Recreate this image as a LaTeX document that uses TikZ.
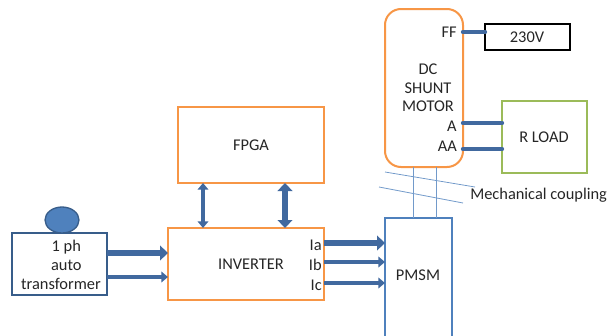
\documentclass[tikz,border=0pt]{standalone}
\usepackage{fontspec}
\setmainfont{Carlito}
\usetikzlibrary{arrows.meta,shapes.geometric}
\definecolor{orng}{HTML}{F79646}
\definecolor{bblue}{HTML}{4F81BD}
\definecolor{dblue}{HTML}{385D8A}
\definecolor{arrblue}{HTML}{41699F}
\definecolor{grn}{HTML}{9BBB59}
\tikzset{
  obox/.style={draw=orng, line width=1.5pt, fill=white},
  bbox/.style={draw=bblue, line width=1.3pt, fill=white},
  tbox/.style={draw=dblue, line width=1.5pt, fill=white},
  kbox/.style={draw=black, line width=1.5pt, fill=white},
  gbox/.style={draw=grn, line width=1.5pt, fill=white},
  lbl/.style={font=\fontsize{12.3}{14}\selectfont, inner sep=0pt, text=black!85},
  bigarr/.style={draw=arrblue, line width=4.3pt, -{Triangle[length=6pt,width=11pt]}},
  smarr/.style={draw=arrblue, line width=3pt, -{Triangle[length=5pt,width=8pt]}},
  bigdbl/.style={draw=arrblue, line width=4.3pt, {Triangle[length=6pt,width=11pt]}-{Triangle[length=6pt,width=11pt]}},
  smdbl/.style={draw=arrblue, line width=3pt, {Triangle[length=5pt,width=8pt]}-{Triangle[length=5pt,width=8pt]}},
  wire/.style={draw=arrblue, line width=3.3pt, line cap=round},
  coup/.style={draw=bblue!80, line width=0.6pt},
}
\begin{document}
\begin{tikzpicture}[x=0.75pt,y=-0.75pt]
\useasboundingbox (0,0) rectangle (608,336);
% boxes
\draw[obox] (178,107) rectangle (324,183);
\node[lbl] (fpga) at (251,145) {FPGA};
\draw[obox] (168,228) rectangle (324,300);
\node[lbl] (inv) at (251,264) {INVERTER};
\draw[tbox] (12,233) rectangle (107,295);
\node[lbl, align=center] (tr) at (61,265) {\hspace*{8pt}1 ph\\\hspace*{8pt}auto\\transformer};
\draw[fill=bblue, draw=dblue, line width=1pt] (62,220) ellipse [x radius=17, y radius=13];
% DC motor
\draw[obox, rounded corners=12pt] (385,9) rectangle (463,167);
\node[lbl, align=center] (dc) at (428,88) {DC\\SHUNT\\MOTOR};
\node[lbl, anchor=east] (ff) at (457,32) {FF};
\node[lbl, anchor=east] (a) at (457,126) {A};
\node[lbl, anchor=east] (aa) at (457,146) {AA};
\draw[kbox] (485,24) rectangle (570,50);
\node[lbl] (v230) at (527,37) {230V};
\draw[gbox] (502,101) rectangle (587,173);
\node[lbl] (rload) at (544,137) {R LOAD};
\draw[wire] (463,32) -- (485,32);
\draw[wire] (463,123) -- (502,123);
\draw[wire] (463,149) -- (502,149);
% PMSM
\draw[bbox] (385,218) rectangle (452,345);
\node[lbl] (pmsm) at (418,275) {PMSM};
% coupling
\draw[coup] (413,167) -- (413,218);
\draw[coup] (436,167) -- (436,218);
\draw[coup] (385,172) -- (475,187);
\draw[coup] (379,187) -- (463,203);
\node[lbl, anchor=west] (mc) at (470,195) {Mechanical coupling};
% arrows
\draw[bigarr] (107,253) -- (168,253);
\draw[smarr] (107,277) -- (168,277);
\draw[smdbl] (203,183) -- (203,228);
\draw[bigdbl] (285,183) -- (285,228);
\node[lbl, anchor=east] (ia) at (322,245) {Ia};
\node[lbl, anchor=east] (ib) at (322,265) {Ib};
\node[lbl, anchor=east] (ic) at (322,285) {Ic};
\draw[bigarr] (324,243) -- (385,243);
\draw[smarr] (324,262) -- (385,262);
\draw[smarr] (324,283) -- (385,283);
\end{tikzpicture}
\end{document}
